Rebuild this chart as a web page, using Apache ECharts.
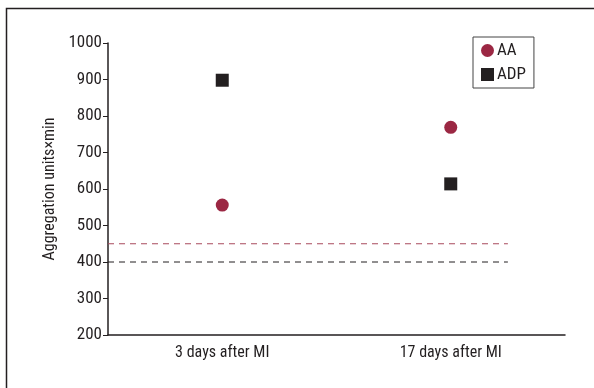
<!DOCTYPE html>
<html><head><meta charset="utf-8">
<script src="https://cdn.jsdelivr.net/npm/echarts@6/dist/echarts.min.js"></script>
<style>html,body{margin:0;padding:0;background:#fff}#c{width:594px;height:388px}</style>
</head><body><div id="c"></div>
<script>
const categories = ['3 days after MI', '17 days after MI'];
const aaValues = [556, 769];
const adpValues = [898, 614];
const aaThreshold = 450;
const adpThreshold = 400;
const yTicks = [200, 300, 400, 500, 600, 700, 800, 900, 1000];
const lineSpan = [0, 1.75];

const FONT = '"Liberation Sans Narrow", "Roboto Condensed", "DejaVu Sans Condensed", sans-serif';
const RED = '#9b2743';
const BLK = '#231f20';

const chart = echarts.init(document.getElementById('c'));
chart.setOption({
  animation: false,
  textStyle: { fontFamily: FONT },
  graphic: [{ type: 'rect', shape: { x: 6.5, y: 8.5, width: 700, height: 500 },
    style: { fill: 'none', stroke: '#231f20', lineWidth: 1.5 }, silent: true, z: -1 }],
  grid: { left: 108, right: 29, top: 43, bottom: 53 },
  legend: {
    orient: 'vertical', left: 473, top: 37, padding: [5, 8, 5, 8],
    borderColor: '#444', borderWidth: 1, itemWidth: 13, itemHeight: 13, itemGap: 7,
    textStyle: { fontFamily: FONT, fontSize: 17, color: BLK, padding: [0, 0, 0, -2] },
    data: [{ name: 'AA', icon: 'circle' }, { name: 'ADP', icon: 'rect' }]
  },
  xAxis: [{
    type: 'category', data: categories, boundaryGap: true,
    axisLine: { lineStyle: { color: BLK, width: 1.5 } },
    axisTick: { alignWithLabel: true, length: 5, lineStyle: { color: BLK } },
    axisLabel: { fontFamily: FONT, fontSize: 16, color: BLK, margin: 10 }
  }, {
    type: 'value', min: 0, max: 2, show: false
  }],
  yAxis: {
    type: 'value', min: yTicks[0], max: yTicks[yTicks.length - 1], interval: 100,
    name: 'Aggregation units×min', nameLocation: 'middle', nameGap: 50,
    nameTextStyle: { fontFamily: FONT, fontSize: 16, color: BLK },
    axisLine: { show: true, lineStyle: { color: BLK, width: 1.5 } },
    axisTick: { show: true, length: 5, lineStyle: { color: BLK } },
    axisLabel: { fontFamily: FONT, fontSize: 17, color: BLK, margin: 6,
      formatter: v => String(v) },
    splitLine: { show: false }
  },
  series: [
    { name: 'AA', type: 'scatter', data: aaValues, symbol: 'circle', symbolSize: 13,
      itemStyle: { color: RED, opacity: 1 }, z: 5 },
    { name: 'ADP', type: 'scatter', data: adpValues, symbol: 'rect', symbolSize: 13,
      itemStyle: { color: BLK, opacity: 1 }, z: 5 },
    { name: 'AA threshold', type: 'line', xAxisIndex: 1, symbol: 'none',
      data: lineSpan.map(x => [x, aaThreshold]),
      lineStyle: { color: '#a84a5c', width: 1, type: [6, 5] } },
    { name: 'ADP threshold', type: 'line', xAxisIndex: 1, symbol: 'none',
      data: lineSpan.map(x => [x, adpThreshold]),
      lineStyle: { color: BLK, width: 1, type: [6, 5] } }
  ]
});
</script></body></html>
